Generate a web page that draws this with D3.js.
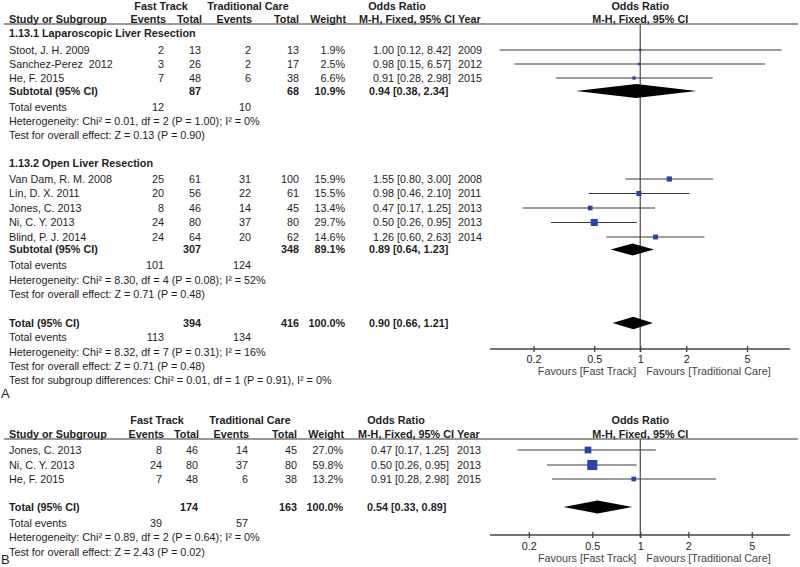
<!DOCTYPE html>
<html><head><meta charset="utf-8">
<script src="https://cdn.jsdelivr.net/npm/d3@7"></script>
<style>
body{margin:0;background:#fff}
svg text{font-family:"Liberation Sans",Arial,sans-serif;font-size:10.8px;fill:#1e1e1e;white-space:pre}
svg text.b{font-weight:bold}
</style></head><body>
<svg id="c" width="800" height="567"></svg>
<script>
// ---------------- DATA ----------------
const tickValues = [0.2, 0.5, 1, 2, 5];
const favourLabels = ["Favours [Fast Track]", "Favours [Traditional Care]"];
const groupHeaders = ["Fast Track", "Traditional Care", "Odds Ratio"];
const colHeaders = ["Study or Subgroup", "Events", "Total", "Events", "Total", "Weight", "M-H, Fixed, 95% CI", "Year"];

// Panel A – 1.13.1 Laparoscopic Liver Resection
const lapTitle = "1.13.1 Laparoscopic Liver Resection";
const lapStudies = ["Stoot, J. H. 2009", "Sanchez-Perez  2012", "He, F. 2015"];
const lapFtEvents = [2, 3, 7];
const lapFtTotal = [13, 26, 48];
const lapTcEvents = [2, 2, 6];
const lapTcTotal = [13, 17, 38];
const lapWeight = [1.9, 2.5, 6.6];
const lapOR = [1.00, 0.98, 0.91];
const lapLow = [0.12, 0.15, 0.28];
const lapHigh = [8.42, 6.57, 2.98];
const lapYear = [2009, 2012, 2015];
const lapSubtotal = [87, 68, 10.9, 0.94, 0.38, 2.34];   // ftTotal, tcTotal, weight, OR, low, high
const lapEvents = [12, 10];
const lapStats = ["Heterogeneity: Chi² = 0.01, df = 2 (P = 1.00); I² = 0%", "Test for overall effect: Z = 0.13 (P = 0.90)"];

// Panel A – 1.13.2 Open Liver Resection
const openTitle = "1.13.2 Open Liver Resection";
const openStudies = ["Van Dam, R. M. 2008", "Lin, D. X. 2011", "Jones, C. 2013", "Ni, C. Y. 2013", "Blind, P. J. 2014"];
const openFtEvents = [25, 20, 8, 24, 24];
const openFtTotal = [61, 56, 46, 80, 64];
const openTcEvents = [31, 22, 14, 37, 20];
const openTcTotal = [100, 61, 45, 80, 62];
const openWeight = [15.9, 15.5, 13.4, 29.7, 14.6];
const openOR = [1.55, 0.98, 0.47, 0.50, 1.26];
const openLow = [0.80, 0.46, 0.17, 0.26, 0.60];
const openHigh = [3.00, 2.10, 1.25, 0.95, 2.63];
const openYear = [2008, 2011, 2013, 2013, 2014];
const openSubtotal = [307, 348, 89.1, 0.89, 0.64, 1.23];
const openEvents = [101, 124];
const openStats = ["Heterogeneity: Chi² = 8.30, df = 4 (P = 0.08); I² = 52%", "Test for overall effect: Z = 0.71 (P = 0.48)"];

// Panel A – total
const totalA = [394, 416, 100.0, 0.90, 0.66, 1.21];
const totalAEvents = [113, 134];
const totalAStats = ["Heterogeneity: Chi² = 8.32, df = 7 (P = 0.31); I² = 16%", "Test for overall effect: Z = 0.71 (P = 0.48)", "Test for subgroup differences: Chi² = 0.01, df = 1 (P = 0.91), I² = 0%"];

// Panel B
const bStudies = ["Jones, C. 2013", "Ni, C. Y. 2013", "He, F. 2015"];
const bFtEvents = [8, 24, 7];
const bFtTotal = [46, 80, 48];
const bTcEvents = [14, 37, 6];
const bTcTotal = [45, 80, 38];
const bWeight = [27.0, 59.8, 13.2];
const bOR = [0.47, 0.50, 0.91];
const bLow = [0.17, 0.26, 0.28];
const bHigh = [1.25, 0.95, 2.98];
const bYear = [2013, 2013, 2015];
const totalB = [174, 163, 100.0, 0.54, 0.33, 0.89];
const totalBEvents = [39, 57];
const totalBStats = ["Heterogeneity: Chi² = 0.89, df = 2 (P = 0.64); I² = 0%", "Test for overall effect: Z = 2.43 (P = 0.02)"];

// ---------------- DRAWING ----------------
const svg = d3.select("#c");
const fmt2 = d3.format(".2f");
const fmtW = v => d3.format(".1f")(v) + "%";
const ciText = (o, l, h) => `${fmt2(o)} [${fmt2(l)}, ${fmt2(h)}]`;

function txt(g, x, y, s, anchor, bold, extra) {
  const t = g.append("text").attr("x", x).attr("y", y).attr("dy", "0.35em")
    .attr("text-anchor", anchor || "start").text(s);
  if (bold) t.attr("class", "b");
  if (extra) extra(t);
  return t;
}

function makePanel(cfg) {
  const g = svg.append("g");
  const x = d3.scaleLog().domain([0.1, 10]).range(cfg.range);
  const C = cfg.cols;
  // headers
  txt(g, C.ftHead, cfg.yH1, groupHeaders[0], "middle", true);
  txt(g, C.tcHead, cfg.yH1, groupHeaders[1], "middle", true);
  txt(g, C.orHead, cfg.yH1, groupHeaders[2], "middle", true);
  txt(g, x(1), cfg.yH1, groupHeaders[2], "middle", true);
  txt(g, C.study, cfg.yH2, colHeaders[0], "start", true);
  txt(g, C.ftEv + 2, cfg.yH2, colHeaders[1], "end", true);
  txt(g, C.ftTot + 1, cfg.yH2, colHeaders[2], "end", true);
  txt(g, C.tcEv + 1, cfg.yH2, colHeaders[3], "end", true);
  txt(g, C.tcTot, cfg.yH2, colHeaders[4], "end", true);
  txt(g, C.weight + 1, cfg.yH2, colHeaders[5], "end", true);
  txt(g, C.mh, cfg.yH2, colHeaders[6], "middle", true);
  txt(g, C.year, cfg.yH2, colHeaders[7], "start", true);
  txt(g, x(1), cfg.yH2, colHeaders[6], "middle", true);
  g.append("line").attr("x1", 4).attr("x2", 798).attr("y1", cfg.yLine).attr("y2", cfg.yLine)
    .attr("stroke", "#333").attr("stroke-width", 1.2);
  // vertical line of no effect
  g.append("line").attr("x1", x(1)).attr("x2", x(1)).attr("y1", cfg.yLine).attr("y2", cfg.yAxis + 3)
    .attr("stroke", "#555").attr("stroke-width", 1.3);
  // axis
  const axG = g.append("g").attr("transform", `translate(0,${cfg.yAxis})`);
  axG.append("line").attr("x1", cfg.axisX[0]).attr("x2", cfg.axisX[1]).attr("stroke", "#444").attr("stroke-width", 1.3);
  const ax = d3.axisBottom(x).tickValues(tickValues).tickFormat(d => String(d)).tickSize(3).tickPadding(4);
  axG.call(ax);
  axG.select(".domain").remove();
  axG.selectAll(".tick line").attr("y1", -3).attr("y2", 3).attr("stroke", "#444").attr("stroke-width", 1.3);
  axG.selectAll(".tick text").attr("y", null).attr("dy", null)
    .attr("transform", `translate(0,${cfg.yTick - cfg.yAxis})`).attr("dominant-baseline", "central")
    .style("font-family", '"Liberation Sans",Arial,sans-serif').style("font-size", "10.8px").attr("fill", "#1e1e1e");
  txt(g, x(1) - 4, cfg.yFav, favourLabels[0], "end", false, t => t.style("fill", "#444"));
  txt(g, x(1) + 6, cfg.yFav, favourLabels[1], "start", false, t => t.style("fill", "#444"));
  return { g, x, C };
}

function studies(P, ys, names, fe, ft, te, tt, w, or, lo, hi, yr) {
  const { g, x, C } = P;
  ys.forEach((y, i) => {
    txt(g, C.study, y, names[i]);
    txt(g, C.ftEv, y, String(fe[i]), "end");
    txt(g, C.ftTot, y, String(ft[i]), "end");
    txt(g, C.tcEv, y, String(te[i]), "end");
    txt(g, C.tcTot, y, String(tt[i]), "end");
    txt(g, C.weight, y, fmtW(w[i]), "end");
    txt(g, C.or, y, ciText(or[i], lo[i], hi[i]), "start");
    txt(g, C.year, y, String(yr[i]), "start");
  });
  g.selectAll(null).data(ys.map((y, i) => ({ y, i }))).enter().append("line")
    .attr("x1", d => x(lo[d.i])).attr("x2", d => x(hi[d.i]))
    .attr("y1", d => d.y).attr("y2", d => d.y)
    .attr("stroke", "#3a3a3a").attr("stroke-width", 1.2);
  const side = d => Math.max(2.5, 1.3 * Math.sqrt(w[d.i]));
  g.selectAll(null).data(ys.map((y, i) => ({ y, i }))).enter().append("rect")
    .attr("x", d => x(or[d.i]) - side(d) / 2).attr("y", d => d.y - side(d) / 2)
    .attr("width", side).attr("height", side).attr("fill", "#2a44a8");
}

function summary(P, y, label, vals, h) {
  const { g, x, C } = P;
  txt(g, C.study, y, label, "start", true);
  txt(g, C.ftTot, y, String(vals[0]), "end", true);
  txt(g, C.tcTot, y, String(vals[1]), "end", true);
  txt(g, C.weight, y, fmtW(vals[2]), "end", true);
  txt(g, C.or - 4, y, ciText(vals[3], vals[4], vals[5]), "start", true);
  const pts = [[x(vals[4]), y], [x(vals[3]), y - h], [x(vals[5]), y], [x(vals[3]), y + h]];
  g.append("path").attr("d", d3.line()(pts) + "Z").attr("fill", "#000");
}

function footer(P, y0, events, stats, step) {
  const { g, C } = P;
  txt(g, C.study, y0, "Total events");
  txt(g, C.ftEv, y0, String(events[0]), "end");
  txt(g, C.tcEv, y0, String(events[1]), "end");
  stats.forEach((s, i) => txt(g, C.study, y0 + step * (i + 1), s));
}

// Panel A
const PA = makePanel({
  range: [487.5, 793], axisX: [490, 790],
  cols: { study: 9, ftEv: 164, ftTot: 201, tcEv: 251, tcTot: 299, weight: 345, or: 373, year: 458, ftHead: 161, tcHead: 248, orHead: 397, mh: 407 },
  yH1: 6, yH2: 19, yLine: 24, yAxis: 349, yTick: 359, yFav: 371
});
txt(PA.g, PA.C.study, 33, lapTitle, "start", true);
studies(PA, [50, 64, 78], lapStudies, lapFtEvents, lapFtTotal, lapTcEvents, lapTcTotal, lapWeight, lapOR, lapLow, lapHigh, lapYear);
summary(PA, 91, "Subtotal (95% CI)", lapSubtotal, 7);
footer(PA, 107, lapEvents, lapStats, 14.2);

txt(PA.g, PA.C.study, 163, openTitle, "start", true);
studies(PA, [179, 193.5, 208, 222.5, 237], openStudies, openFtEvents, openFtTotal, openTcEvents, openTcTotal, openWeight, openOR, openLow, openHigh, openYear);
summary(PA, 249.5, "Subtotal (95% CI)", openSubtotal, 6);
footer(PA, 265, openEvents, openStats, 14.8);

summary(PA, 323, "Total (95% CI)", totalA, 6.3);
footer(PA, 337.5, totalAEvents, totalAStats, 14.3);
txt(PA.g, 1, 393, "A", "start", false, t => t.style("font-size", "13px"));

// Panel B
const PB = makePanel({
  range: [480.8, 799.8], axisX: [490, 790],
  cols: { study: 9, ftEv: 162, ftTot: 198, tcEv: 248, tcTot: 297, weight: 343, or: 371, year: 457, ftHead: 157, tcHead: 250, orHead: 396, mh: 406 },
  yH1: 420, yH2: 434, yLine: 439, yAxis: 535, yTick: 546, yFav: 558
});
studies(PB, [450, 465, 479], bStudies, bFtEvents, bFtTotal, bTcEvents, bTcTotal, bWeight, bOR, bLow, bHigh, bYear);
summary(PB, 507, "Total (95% CI)", totalB, 6.5);
footer(PB, 523, totalBEvents, totalBStats, 14.5);
txt(PB.g, 1, 559, "B", "start", false, t => t.style("font-size", "13px"));
</script>
</body></html>
